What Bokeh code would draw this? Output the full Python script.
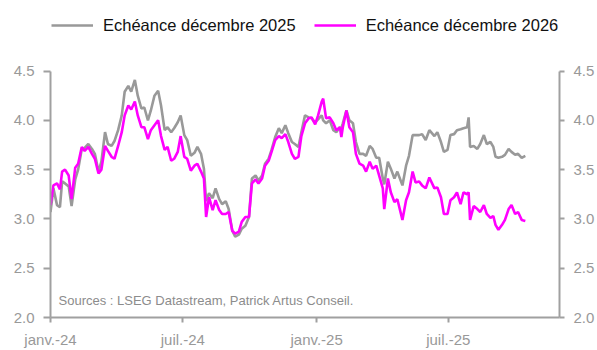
import pandas as pd
from datetime import datetime
from bokeh.plotting import figure
from bokeh.models import (Range1d, LinearAxis, FixedTicker, Legend, LegendItem,
                          Label, ColumnDataSource, NumeralTickFormatter)
from bokeh.embed import file_html
from bokeh.resources import INLINE

dates = [
    "2024-01-01", "2024-01-05", "2024-01-10", "2024-01-14", "2024-01-17", "2024-01-21",
    "2024-01-26", "2024-01-30", "2024-02-04", "2024-02-08", "2024-02-13", "2024-02-17",
    "2024-02-22", "2024-02-27", "2024-03-02", "2024-03-07", "2024-03-11", "2024-03-16",
    "2024-03-20", "2024-03-25", "2024-03-29", "2024-04-03", "2024-04-08", "2024-04-12",
    "2024-04-17", "2024-04-21", "2024-04-26", "2024-04-30", "2024-05-05", "2024-05-09",
    "2024-05-14", "2024-05-18", "2024-05-23", "2024-05-28", "2024-06-01", "2024-06-06",
    "2024-06-10", "2024-06-15", "2024-06-19", "2024-06-24", "2024-06-28", "2024-07-03",
    "2024-07-07", "2024-07-12", "2024-07-17", "2024-07-21", "2024-07-26", "2024-07-30",
    "2024-08-02", "2024-08-06", "2024-08-11", "2024-08-15", "2024-08-20", "2024-08-24",
    "2024-08-29", "2024-09-02", "2024-09-07", "2024-09-11", "2024-09-16", "2024-09-20",
    "2024-09-25", "2024-09-30", "2024-10-04", "2024-10-09", "2024-10-13", "2024-10-18",
    "2024-10-22", "2024-10-27", "2024-10-31", "2024-11-05", "2024-11-10", "2024-11-14",
    "2024-11-19", "2024-11-23", "2024-11-28", "2024-12-02", "2024-12-07", "2024-12-11",
    "2024-12-16", "2024-12-21", "2024-12-25", "2024-12-30",
    "2025-01-03", "2025-01-08", "2025-01-10", "2025-01-14", "2025-01-19", "2025-01-24",
    "2025-01-28", "2025-02-02", "2025-02-04", "2025-02-06", "2025-02-11", "2025-02-15",
    "2025-02-20", "2025-02-24", "2025-03-01", "2025-03-06", "2025-03-10", "2025-03-15",
    "2025-03-19", "2025-03-24", "2025-03-28", "2025-04-02", "2025-04-04", "2025-04-09",
    "2025-04-13", "2025-04-18", "2025-04-22", "2025-04-29", "2025-05-04", "2025-05-08",
    "2025-05-13", "2025-05-17", "2025-05-22", "2025-05-26", "2025-05-31", "2025-06-05",
    "2025-06-12", "2025-06-16", "2025-06-21", "2025-06-25", "2025-06-30", "2025-07-04",
    "2025-07-09", "2025-07-13", "2025-07-18", "2025-07-22", "2025-07-27", "2025-07-29",
    "2025-07-31", "2025-08-05", "2025-08-10", "2025-08-14", "2025-08-19", "2025-08-23",
    "2025-08-28", "2025-09-01", "2025-09-04", "2025-09-08", "2025-09-13", "2025-09-17",
    "2025-09-22", "2025-09-26", "2025-10-01", "2025-10-05", "2025-10-10", "2025-10-15",
]

dec2025 = [
    3.07, 3.31, 3.14, 3.12, 3.38, 3.36, 3.33, 3.13, 3.40, 3.50, 3.71, 3.72,
    3.76, 3.71, 3.66, 3.48, 3.58, 3.88, 3.76, 3.74, 3.79, 3.90, 4.05, 4.29,
    4.35, 4.29, 4.41, 4.25, 4.12, 4.13, 4.00, 4.10, 4.25, 4.30, 4.15, 3.90,
    3.93, 3.88, 3.92, 3.98, 4.05, 3.85, 3.80, 3.64, 3.67, 3.73, 3.66, 3.51,
    3.18, 3.26, 3.21, 3.31, 3.20, 3.15, 3.18, 3.10, 2.88, 2.82, 2.84, 2.90,
    2.93, 3.02, 3.41, 3.44, 3.39, 3.44, 3.56, 3.61, 3.70, 3.83, 3.92, 3.87,
    3.95, 3.87, 3.78, 3.76, 3.73, 3.88, 4.05, 4.03, 4.02, 3.98,
    4.01, 4.05, 4.00, 3.97, 4.00, 3.90, 3.88, 3.93, 3.92, 3.97, 4.10, 4.00,
    3.97, 3.78, 3.66, 3.66, 3.64, 3.74, 3.71, 3.62, 3.62, 3.41, 3.35, 3.58,
    3.51, 3.41, 3.48, 3.34, 3.54, 3.64, 3.85, 3.85, 3.85, 3.86, 3.80, 3.90,
    3.84, 3.88, 3.78, 3.68, 3.70, 3.85, 3.86, 3.90, 3.91, 3.92, 3.93, 4.03,
    3.73, 3.74, 3.71, 3.76, 3.85, 3.76, 3.78, 3.73, 3.63, 3.62, 3.63, 3.65,
    3.71, 3.68, 3.65, 3.66, 3.62, 3.64,
]

dec2026 = [
    3.14, 3.34, 3.36, 3.30, 3.48, 3.50, 3.44, 3.20, 3.52, 3.56, 3.73, 3.69,
    3.73, 3.66, 3.61, 3.46, 3.50, 3.74, 3.69, 3.63, 3.61, 3.74, 3.88, 4.05,
    4.15, 4.11, 4.19, 4.05, 3.93, 3.93, 3.81, 3.90, 3.95, 4.00, 3.84, 3.70,
    3.73, 3.59, 3.61, 3.68, 3.84, 3.63, 3.61, 3.49, 3.54, 3.56, 3.48, 3.41,
    3.02, 3.22, 3.09, 3.19, 3.09, 3.05, 3.05, 3.07, 2.88, 2.85, 2.87, 2.97,
    3.02, 3.02, 3.36, 3.40, 3.36, 3.41, 3.54, 3.59, 3.68, 3.80, 3.84, 3.82,
    3.86, 3.78, 3.66, 3.61, 3.63, 3.84, 3.97, 4.02, 4.03, 3.96,
    4.05, 4.19, 4.22, 4.02, 4.03, 3.97, 3.90, 3.93, 3.83, 3.93, 4.10, 3.93,
    3.88, 3.66, 3.56, 3.54, 3.48, 3.58, 3.51, 3.54, 3.44, 3.31, 3.10, 3.41,
    3.27, 3.17, 3.20, 2.99, 3.19, 3.27, 3.48, 3.37, 3.38, 3.34, 3.31, 3.42,
    3.31, 3.32, 3.22, 3.05, 3.05, 3.19, 3.22, 3.27, 3.15, 3.27, 3.25, 3.27,
    2.99, 3.13, 3.10, 3.07, 3.14, 3.05, 3.01, 3.03, 2.94, 2.89, 2.94, 2.99,
    3.10, 3.14, 3.05, 3.07, 2.99, 2.98,
]

series_names = ["Echéance décembre 2025", "Echéance décembre 2026"]
series_colors = ["#999999", "#FF00FF"]

tick_dates = ["2024-01-01", "2024-07-01", "2025-01-01", "2025-07-01"]
tick_labels = ["janv.-24", "juil.-24", "janv.-25", "juil.-25"]
y_ticks = [2.0, 2.5, 3.0, 3.5, 4.0, 4.5]
source_text = "Sources : LSEG Datastream, Patrick Artus Conseil."

font = "Liberation Sans"
axis_col = "#A0A0A0"
lab_col = "#999999"
lw = 2.6

src = ColumnDataSource(dict(d=pd.to_datetime(dates), a=dec2025, b=dec2026))

# frame extends above 4.5 so the legend can sit inside it; axes are bounded to 2.0-4.5
p = figure(width=597, height=350, x_axis_type="datetime",
           output_backend="svg", toolbar_location=None,
           x_range=Range1d(datetime(2024, 1, 1), datetime(2025, 12, 1)),
           y_range=Range1d(2.0, 5.114),
           min_border_left=50, min_border_right=35,
           min_border_top=10, min_border_bottom=33)
p.outline_line_color = None
p.xgrid.visible = False
p.ygrid.visible = False

r1 = p.line("d", "a", source=src, line_color=series_colors[0], line_width=lw)
r2 = p.line("d", "b", source=src, line_color=series_colors[1], line_width=lw)

tick_ms = [pd.Timestamp(t).value // 10**6 for t in tick_dates]
xa = p.xaxis[0]
xa.ticker = FixedTicker(ticks=tick_ms)
xa.major_label_overrides = {t: l for t, l in zip(tick_ms, tick_labels)}
xa.major_tick_out = 5
xa.major_tick_in = 0
xa.major_label_standoff = 8

ya = p.yaxis[0]
ya.ticker = FixedTicker(ticks=y_ticks)
ya.major_tick_out = 7
ya.major_tick_in = 0
ya.major_label_standoff = 9
ya.bounds = (2.0, 4.5)

ra = LinearAxis(ticker=FixedTicker(ticks=y_ticks), bounds=(2.0, 4.5))
ra.major_tick_out = 5
ra.major_tick_in = 0
ra.major_label_standoff = 9
p.add_layout(ra, "right")

for ax in [xa, ya, ra]:
    ax.axis_line_color = axis_col
    ax.axis_line_width = 2
    ax.major_tick_line_color = axis_col
    ax.major_tick_line_width = 2
    ax.minor_tick_line_color = None
    ax.major_label_text_color = lab_col
    ax.major_label_text_font = font
    ax.major_label_text_font_size = "15px"

ya.formatter = NumeralTickFormatter(format="0.0")
ra.formatter = NumeralTickFormatter(format="0.0")

legend = Legend(items=[LegendItem(label=series_names[0], renderers=[r1]),
                       LegendItem(label=series_names[1], renderers=[r2])],
                orientation="horizontal", location=(1, 282),
                padding=0, margin=0, spacing=18, glyph_width=42,
                label_standoff=10, border_line_color=None,
                background_fill_alpha=0,
                label_text_font=font, label_text_font_size="16.5px",
                label_text_color="#111111")
p.add_layout(legend, "center")

p.add_layout(Label(x=datetime(2024, 1, 12), y=2.1, text=source_text,
                   text_font=font, text_font_size="13px", text_color="#8C8C8C"))

open("out.html", "w").write(file_html(p, INLINE))
